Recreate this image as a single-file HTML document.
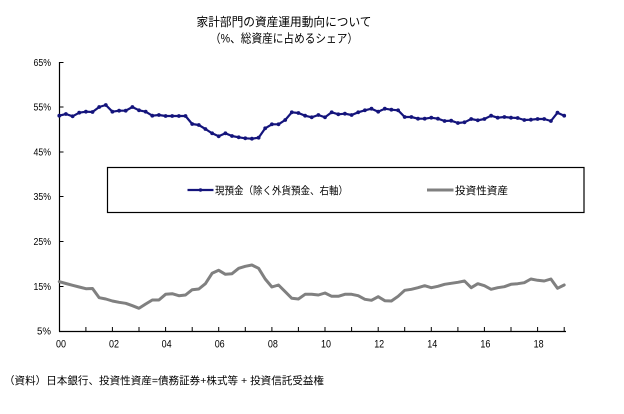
<!DOCTYPE html>
<html>
<head>
<meta charset="utf-8">
<style>
  html, body { margin: 0; padding: 0; background: #ffffff; }
  svg { display: block; }
  .cjk { font-family: "Liberation Sans", "Noto Sans CJK JP", sans-serif; fill: #000; }
  .num { font-family: "Liberation Sans", sans-serif; fill: #000; }
</style>
</head>
<body>
<svg width="624" height="414" viewBox="0 0 624 414" xmlns="http://www.w3.org/2000/svg">
  <rect x="0" y="0" width="624" height="414" fill="#ffffff"/>

  <!-- Title -->
  <text class="cjk" x="284" y="26" font-size="12" text-anchor="middle" textLength="175" lengthAdjust="spacingAndGlyphs">家計部門の資産運用動向について</text>
  <text class="cjk" x="284" y="42.6" font-size="12" text-anchor="middle" textLength="148" lengthAdjust="spacingAndGlyphs">（%、総資産に占めるシェア）</text>

  <!-- Axes -->
  <line x1="59.5" y1="62" x2="59.5" y2="331.5" stroke="#000" stroke-width="1.2"/>
  <line x1="59" y1="331.5" x2="566" y2="331.5" stroke="#000" stroke-width="1.2"/>

  <!-- Y ticks -->
  <g stroke="#000" stroke-width="1">
    <line x1="59.5" y1="62.5" x2="63.5" y2="62.5"/>
    <line x1="59.5" y1="107" x2="63.5" y2="107"/>
    <line x1="59.5" y1="152" x2="63.5" y2="152"/>
    <line x1="59.5" y1="196.5" x2="63.5" y2="196.5"/>
    <line x1="59.5" y1="241.5" x2="63.5" y2="241.5"/>
    <line x1="59.5" y1="286.5" x2="63.5" y2="286.5"/>
  </g>

  <!-- X ticks -->
  <g stroke="#000" stroke-width="1">
    <line x1="85.9" y1="327" x2="85.9" y2="331"/>
    <line x1="112.4" y1="327" x2="112.4" y2="331"/>
    <line x1="139.0" y1="327" x2="139.0" y2="331"/>
    <line x1="165.6" y1="327" x2="165.6" y2="331"/>
    <line x1="192.2" y1="327" x2="192.2" y2="331"/>
    <line x1="218.7" y1="327" x2="218.7" y2="331"/>
    <line x1="245.3" y1="327" x2="245.3" y2="331"/>
    <line x1="271.9" y1="327" x2="271.9" y2="331"/>
    <line x1="298.4" y1="327" x2="298.4" y2="331"/>
    <line x1="325.0" y1="327" x2="325.0" y2="331"/>
    <line x1="351.6" y1="327" x2="351.6" y2="331"/>
    <line x1="378.2" y1="327" x2="378.2" y2="331"/>
    <line x1="404.7" y1="327" x2="404.7" y2="331"/>
    <line x1="431.3" y1="327" x2="431.3" y2="331"/>
    <line x1="457.9" y1="327" x2="457.9" y2="331"/>
    <line x1="484.4" y1="327" x2="484.4" y2="331"/>
    <line x1="511.0" y1="327" x2="511.0" y2="331"/>
    <line x1="537.6" y1="327" x2="537.6" y2="331"/>
    <line x1="564.2" y1="327" x2="564.2" y2="331"/>
  </g>

  <!-- Y labels -->
  <g class="num" font-size="10" text-anchor="end">
    <text x="51" y="66" textLength="17.5" lengthAdjust="spacingAndGlyphs">65%</text>
    <text x="51" y="110.6" textLength="17.5" lengthAdjust="spacingAndGlyphs">55%</text>
    <text x="51" y="155.4" textLength="17.5" lengthAdjust="spacingAndGlyphs">45%</text>
    <text x="51" y="200.2" textLength="17.5" lengthAdjust="spacingAndGlyphs">35%</text>
    <text x="51" y="245" textLength="17.5" lengthAdjust="spacingAndGlyphs">25%</text>
    <text x="51" y="289.8" textLength="17.5" lengthAdjust="spacingAndGlyphs">15%</text>
    <text x="51" y="334.6" textLength="14" lengthAdjust="spacingAndGlyphs">5%</text>
  </g>

  <!-- X labels -->
  <g class="num" font-size="11" text-anchor="middle">
    <text x="61" y="347.3" textLength="10" lengthAdjust="spacingAndGlyphs">00</text>
    <text x="114" y="347.3" textLength="10" lengthAdjust="spacingAndGlyphs">02</text>
    <text x="166.6" y="347.3" textLength="10" lengthAdjust="spacingAndGlyphs">04</text>
    <text x="219.7" y="347.3" textLength="10" lengthAdjust="spacingAndGlyphs">06</text>
    <text x="272.9" y="347.3" textLength="10" lengthAdjust="spacingAndGlyphs">08</text>
    <text x="326" y="347.3" textLength="10" lengthAdjust="spacingAndGlyphs">10</text>
    <text x="379.2" y="347.3" textLength="10" lengthAdjust="spacingAndGlyphs">12</text>
    <text x="432.3" y="347.3" textLength="10" lengthAdjust="spacingAndGlyphs">14</text>
    <text x="485.4" y="347.3" textLength="10" lengthAdjust="spacingAndGlyphs">16</text>
    <text x="538.6" y="347.3" textLength="10" lengthAdjust="spacingAndGlyphs">18</text>
  </g>

  <!-- Gray series: 投資性資産 -->
  <polyline fill="none" stroke="#808080" stroke-width="3" stroke-linejoin="round" stroke-linecap="round"
    points="59.3,281.7 65.9,283.5 72.6,285.3 79.2,287 85.9,288.7 92.5,288.5 99.2,297.7 105.8,299 112.4,301 119.1,302.3 125.7,303.3 132.4,305.7 139.0,308.3 145.7,304 152.3,300 158.9,300 165.6,294.3 172.2,293.7 178.9,295.7 185.5,295 192.2,289.7 198.8,289 205.4,283.7 212.1,273.3 218.7,270.3 225.4,274.3 232.0,273.7 238.7,268.3 245.3,266.3 251.9,265 258.6,268.3 265.2,279 271.9,287 278.5,285 285.2,291.7 291.8,298.3 298.4,299 305.1,294.3 311.7,294.3 318.4,295 325.0,293 331.7,296.3 338.3,296.3 344.9,294.3 351.6,294.3 358.2,295.7 364.9,299.3 371.5,300.3 378.2,296.7 384.8,300.7 391.4,301 398.1,296.3 404.7,290.3 411.4,289.3 418.0,287.7 424.7,285.7 431.3,287.7 437.9,286.3 444.6,284.3 451.2,283.3 457.9,282.3 464.5,281 471.2,287.7 477.8,283.7 484.4,285.7 491.1,289.3 497.7,287.7 504.4,286.7 511.0,284.3 517.7,283.7 524.3,282.7 530.9,279 537.6,280.3 544.2,281 550.9,279 557.5,288.3 564.2,285"/>

  <!-- Blue series: 現預金 -->
  <polyline id="blue" fill="none" stroke="#14147c" stroke-width="2.2" stroke-linejoin="round"
    points="59.3,115.7 65.9,114 72.6,116.3 79.2,112.7 85.9,111.7 92.5,112 99.2,107 105.8,105 112.4,111.7 119.1,110.7 125.7,110.7 132.4,107 139.0,110.3 145.7,111.7 152.3,115.7 158.9,115 165.6,116 172.2,116 178.9,116 185.5,116 192.2,124 198.8,125 205.4,129 212.1,133.3 218.7,136.3 225.4,133.3 232.0,136 238.7,137.3 245.3,138.3 251.9,138.7 258.6,137.7 265.2,128.3 271.9,124.3 278.5,124.3 285.2,120 291.8,112.3 298.4,113 305.1,115.7 311.7,117.3 318.4,115 325.0,117.3 331.7,112.3 338.3,114.3 344.9,113.7 351.6,115 358.2,112.3 364.9,110.3 371.5,108.7 378.2,111.7 384.8,108.7 391.4,109.7 398.1,110.3 404.7,117 411.4,117 418.0,118.7 424.7,118.7 431.3,117.7 437.9,118.7 444.6,121 451.2,120.7 457.9,123 464.5,122.3 471.2,119 477.8,120.3 484.4,119 491.1,115.7 497.7,117.7 504.4,117 511.0,117.7 517.7,118 524.3,120 530.9,119.7 537.6,119 544.2,119 550.9,121 557.5,112.7 564.2,115.7"/>
  <g fill="#14147c">
    <circle cx="59.3" cy="115.7" r="1.9"/><circle cx="65.9" cy="114" r="1.9"/><circle cx="72.6" cy="116.3" r="1.9"/><circle cx="79.2" cy="112.7" r="1.9"/><circle cx="85.9" cy="111.7" r="1.9"/><circle cx="92.5" cy="112" r="1.9"/><circle cx="99.2" cy="107" r="1.9"/><circle cx="105.8" cy="105" r="1.9"/><circle cx="112.4" cy="111.7" r="1.9"/><circle cx="119.1" cy="110.7" r="1.9"/><circle cx="125.7" cy="110.7" r="1.9"/><circle cx="132.4" cy="107" r="1.9"/><circle cx="139.0" cy="110.3" r="1.9"/><circle cx="145.7" cy="111.7" r="1.9"/><circle cx="152.3" cy="115.7" r="1.9"/><circle cx="158.9" cy="115" r="1.9"/><circle cx="165.6" cy="116" r="1.9"/><circle cx="172.2" cy="116" r="1.9"/><circle cx="178.9" cy="116" r="1.9"/><circle cx="185.5" cy="116" r="1.9"/><circle cx="192.2" cy="124" r="1.9"/><circle cx="198.8" cy="125" r="1.9"/><circle cx="205.4" cy="129" r="1.9"/><circle cx="212.1" cy="133.3" r="1.9"/><circle cx="218.7" cy="136.3" r="1.9"/><circle cx="225.4" cy="133.3" r="1.9"/><circle cx="232.0" cy="136" r="1.9"/><circle cx="238.7" cy="137.3" r="1.9"/><circle cx="245.3" cy="138.3" r="1.9"/><circle cx="251.9" cy="138.7" r="1.9"/><circle cx="258.6" cy="137.7" r="1.9"/><circle cx="265.2" cy="128.3" r="1.9"/><circle cx="271.9" cy="124.3" r="1.9"/><circle cx="278.5" cy="124.3" r="1.9"/><circle cx="285.2" cy="120" r="1.9"/><circle cx="291.8" cy="112.3" r="1.9"/><circle cx="298.4" cy="113" r="1.9"/><circle cx="305.1" cy="115.7" r="1.9"/><circle cx="311.7" cy="117.3" r="1.9"/><circle cx="318.4" cy="115" r="1.9"/><circle cx="325.0" cy="117.3" r="1.9"/><circle cx="331.7" cy="112.3" r="1.9"/><circle cx="338.3" cy="114.3" r="1.9"/><circle cx="344.9" cy="113.7" r="1.9"/><circle cx="351.6" cy="115" r="1.9"/><circle cx="358.2" cy="112.3" r="1.9"/><circle cx="364.9" cy="110.3" r="1.9"/><circle cx="371.5" cy="108.7" r="1.9"/><circle cx="378.2" cy="111.7" r="1.9"/><circle cx="384.8" cy="108.7" r="1.9"/><circle cx="391.4" cy="109.7" r="1.9"/><circle cx="398.1" cy="110.3" r="1.9"/><circle cx="404.7" cy="117" r="1.9"/><circle cx="411.4" cy="117" r="1.9"/><circle cx="418.0" cy="118.7" r="1.9"/><circle cx="424.7" cy="118.7" r="1.9"/><circle cx="431.3" cy="117.7" r="1.9"/><circle cx="437.9" cy="118.7" r="1.9"/><circle cx="444.6" cy="121" r="1.9"/><circle cx="451.2" cy="120.7" r="1.9"/><circle cx="457.9" cy="123" r="1.9"/><circle cx="464.5" cy="122.3" r="1.9"/><circle cx="471.2" cy="119" r="1.9"/><circle cx="477.8" cy="120.3" r="1.9"/><circle cx="484.4" cy="119" r="1.9"/><circle cx="491.1" cy="115.7" r="1.9"/><circle cx="497.7" cy="117.7" r="1.9"/><circle cx="504.4" cy="117" r="1.9"/><circle cx="511.0" cy="117.7" r="1.9"/><circle cx="517.7" cy="118" r="1.9"/><circle cx="524.3" cy="120" r="1.9"/><circle cx="530.9" cy="119.7" r="1.9"/><circle cx="537.6" cy="119" r="1.9"/><circle cx="544.2" cy="119" r="1.9"/><circle cx="550.9" cy="121" r="1.9"/><circle cx="557.5" cy="112.7" r="1.9"/><circle cx="564.2" cy="115.7" r="1.9"/>
  </g>

  <!-- Legend -->
  <rect x="107.5" y="167.5" width="476.5" height="45" fill="#ffffff" stroke="#000" stroke-width="1.2"/>
  <line x1="187.5" y1="190" x2="213.5" y2="190" stroke="#14147c" stroke-width="2.2"/>
  <circle cx="200.5" cy="190" r="1.7" fill="#14147c"/>
  <text class="cjk" x="215" y="193.9" font-size="10.5" textLength="133" lengthAdjust="spacingAndGlyphs">現預金（除く外貨預金、右軸）</text>
  <line x1="427" y1="190" x2="453.5" y2="190" stroke="#808080" stroke-width="3"/>
  <text class="cjk" x="455" y="193.9" font-size="10.5" textLength="53" lengthAdjust="spacingAndGlyphs">投資性資産</text>

  <!-- Footnote -->
  <text class="cjk" x="4" y="384" font-size="10.5" textLength="320" lengthAdjust="spacingAndGlyphs">（資料）日本銀行、投資性資産=債務証券+株式等 + 投資信託受益権</text>
</svg>
</body>
</html>
